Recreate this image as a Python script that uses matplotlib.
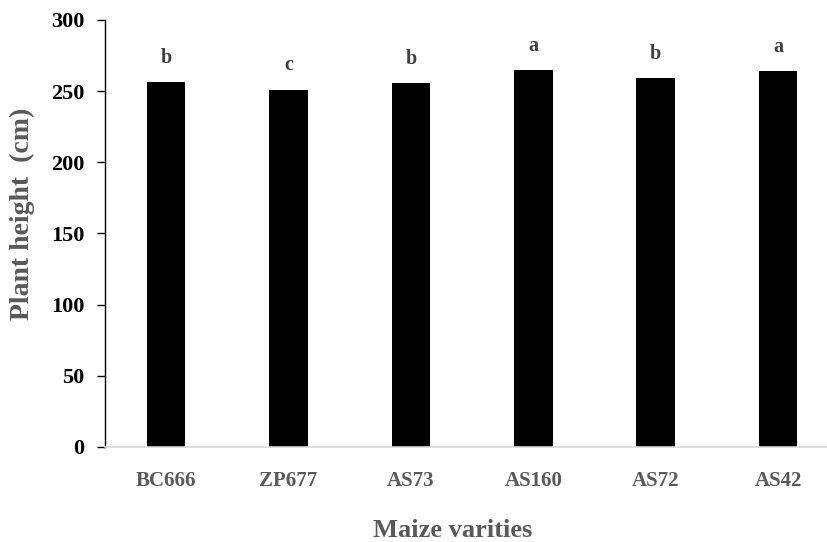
'''Plant height of six maize varieties with significance letters'''

import numpy as np
import matplotlib.pyplot as plt

varieties = ['BC666', 'ZP677', 'AS73', 'AS160', 'AS72', 'AS42']
height_cm = [256.3, 251.1, 255.6, 264.5, 259.1, 263.8]
letters = ['b', 'c', 'b', 'a', 'b', 'a']

GREY = '#595959'


def make_plot():
    plt.rcParams['font.family'] = ['Liberation Serif', 'DejaVu Serif']
    plt.rcParams['font.weight'] = 'bold'

    fig = plt.figure(figsize=(8.27, 5.42), dpi=100)
    ax = fig.add_axes([0.127, 0.1753, 0.873, 0.788])

    x = np.arange(len(varieties))
    ax.bar(x, height_cm, width=0.315, color='black')
    for xi, h, lab in zip(x, height_cm, letters):
        ax.text(xi, h + 10, lab, ha='center', va='bottom',
                fontsize=14.5, fontweight='bold', color='#404040')

    ax.set_xlim(-0.5, 5.4)
    ax.set_ylim(0, 300)
    ax.set_yticks(np.arange(0, 301, 50))
    ax.set_xticks(x)
    ax.set_xticklabels(varieties)

    for side in ['top', 'right']:
        ax.spines[side].set_visible(False)
    ax.spines['left'].set_linewidth(1.0)
    ax.spines['bottom'].set_color('#d9d9d9')
    ax.spines['bottom'].set_linewidth(1.2)

    ax.tick_params(axis='y', direction='out', length=6, width=1.0,
                   labelsize=16, pad=9, labelcolor='black')
    ax.tick_params(axis='x', length=0, labelsize=15, pad=17,
                   labelcolor=GREY)
    for t in ax.get_xticklabels() + ax.get_yticklabels():
        t.set_fontweight('bold')

    fig.text(0.027, 0.605, 'Plant height  (cm)', rotation=90,
             ha='center', va='center', fontsize=20, fontweight='bold',
             color=GREY)
    fig.text(0.547, 0.022, 'Maize varities', ha='center', va='center',
             fontsize=19, fontweight='bold', color=GREY)

    fig.savefig('out.png', dpi=100)


if __name__ == "__main__":
    make_plot()
